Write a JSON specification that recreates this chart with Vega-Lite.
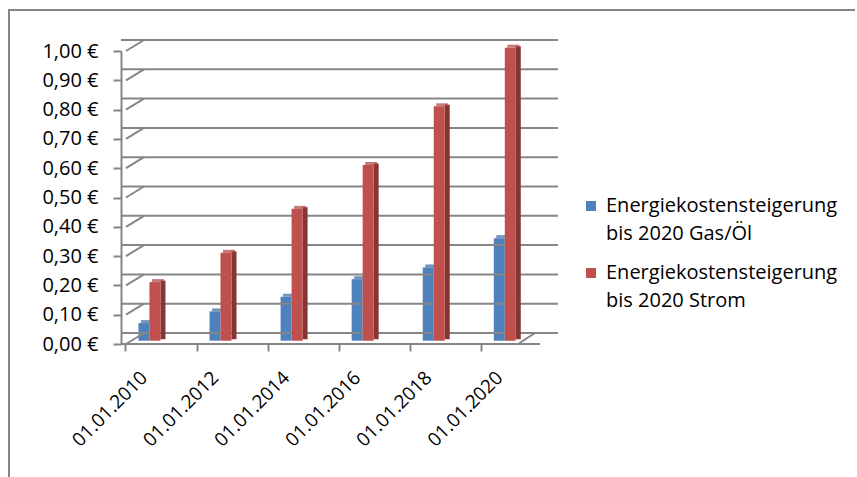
{
  "$schema": "https://vega.github.io/schema/vega-lite/v6.json",
  "width": 419,
  "height": 293,
  "autosize": {"type": "none"},
  "padding": {"left": 121, "top": 51, "right": 317, "bottom": 133},
  "background": "white",
  "config": {
    "view": {"stroke": null},
    "font": "Open Sans",
    "axis": {"labelOverlap": false},
    "style": {"guide-label": {"lineHeight": 28}}
  },
  "datasets": {
    "werte": [
      {"jahr": 2010, "reihe": "Energiekostensteigerung bis 2020 Gas/Öl", "wert": 0.06},
      {"jahr": 2012, "reihe": "Energiekostensteigerung bis 2020 Gas/Öl", "wert": 0.10},
      {"jahr": 2014, "reihe": "Energiekostensteigerung bis 2020 Gas/Öl", "wert": 0.15},
      {"jahr": 2016, "reihe": "Energiekostensteigerung bis 2020 Gas/Öl", "wert": 0.21},
      {"jahr": 2018, "reihe": "Energiekostensteigerung bis 2020 Gas/Öl", "wert": 0.25},
      {"jahr": 2020, "reihe": "Energiekostensteigerung bis 2020 Gas/Öl", "wert": 0.35},
      {"jahr": 2010, "reihe": "Energiekostensteigerung bis 2020 Strom", "wert": 0.20},
      {"jahr": 2012, "reihe": "Energiekostensteigerung bis 2020 Strom", "wert": 0.30},
      {"jahr": 2014, "reihe": "Energiekostensteigerung bis 2020 Strom", "wert": 0.45},
      {"jahr": 2016, "reihe": "Energiekostensteigerung bis 2020 Strom", "wert": 0.60},
      {"jahr": 2018, "reihe": "Energiekostensteigerung bis 2020 Strom", "wert": 0.80},
      {"jahr": 2020, "reihe": "Energiekostensteigerung bis 2020 Strom", "wert": 1.00}
    ],
    "raster": [
      {"v": 0}, {"v": 0.1}, {"v": 0.2}, {"v": 0.3}, {"v": 0.4}, {"v": 0.5},
      {"v": 0.6}, {"v": 0.7}, {"v": 0.8}, {"v": 0.9}, {"v": 1.0}
    ],
    "eins": [{"v": 0}]
  },
  "layer": [
    {
      "data": {"name": "werte"},
      "transform": [{"filter": "datum.reihe == 'Energiekostensteigerung bis 2020 Gas/Öl'"}],
      "mark": {"type": "bar", "width": 11, "xOffset": -5.5, "yOffset": -3.3, "y2Offset": -3.3},
      "encoding": {
        "x": {
          "field": "jahr", "type": "quantitative",
          "scale": {"domain": [2009.34, 2020.85], "nice": false, "zero": false},
          "axis": {
            "title": null, "values": [2010, 2012, 2014, 2016, 2018, 2020],
            "tickOffset": -24, "labelOffset": 12,
            "labelExpr": "'01.01.' + datum.value",
            "labelAngle": -45, "labelOverlap": false, "labelBound": false, "labelLineHeight": 20,
            "domain": false, "grid": false,
            "tickSize": 7, "tickColor": "#868686", "tickWidth": 2,
            "labelFont": "Open Sans", "labelFontSize": 19, "labelColor": "#000000", "labelPadding": 17
          }
        },
        "y": {
          "field": "wert", "type": "quantitative",
          "scale": {"domain": [0, 1], "nice": false},
          "axis": {
            "title": null, "values": [0, 0.1, 0.2, 0.3, 0.4, 0.5, 0.6, 0.7, 0.8, 0.9, 1.0], "tickCount": 11,
            "labelExpr": "replace(format(datum.value, '.2f'), '.', ',') + ' €'",
            "labelOverlap": false, "labelBound": false, "labelLineHeight": 20,
            "grid": false, "domainColor": "#868686", "domainWidth": 2,
            "tickColor": "#868686", "tickWidth": 2, "tickSize": 8, "labelPadding": 15,
            "labelFont": "Open Sans", "labelFontSize": 20, "labelColor": "#000000"
          }
        },
        "color": {
          "field": "reihe", "type": "nominal",
          "scale": {"domain": ["Energiekostensteigerung bis 2020 Gas/Öl", "Energiekostensteigerung bis 2020 Strom"], "range": ["#4F81BD", "#C0504D"]},
          "legend": {
            "orient": "none", "legendX": 460, "legendY": 145, "title": null,
            "symbolType": "square", "symbolSize": 100, "symbolStrokeWidth": 0,
            "labelFont": "Open Sans", "labelFontSize": 20, "labelColor": "#000000", "labelLimit": 0,
            "labelExpr": "['Energiekostensteigerung', slice(datum.label, 24)]",
            "rowPadding": 19, "labelOffset": 5
          }
        }
      }
    },
    {
      "data": {"name": "raster"},
      "mark": {"type": "rule", "color": "#868686", "strokeWidth": 2, "xOffset": 18, "yOffset": -11, "y2Offset": -11},
      "encoding": {
        "y": {
          "field": "v", "type": "quantitative",
          "axis": {
            "title": null, "values": [0, 0.1, 0.2, 0.3, 0.4, 0.5, 0.6, 0.7, 0.8, 0.9, 1.0], "tickCount": 11,
            "labelExpr": "replace(format(datum.value, '.2f'), '.', ',') + ' €'",
            "labelOverlap": false, "labelBound": false, "labelLineHeight": 20,
            "grid": false, "domainColor": "#868686", "domainWidth": 2,
            "tickColor": "#868686", "tickWidth": 2, "tickSize": 8, "labelPadding": 15,
            "labelFont": "Open Sans", "labelFontSize": 20, "labelColor": "#000000"
          }
        }
      }
    },
    {
      "data": {"name": "raster"},
      "mark": {"type": "rule", "color": "#868686", "strokeWidth": 2, "x2Offset": 18, "y2Offset": -11},
      "encoding": {
        "x": {"datum": 2009.34, "type": "quantitative", "title": null},
        "x2": {"datum": 2009.34},
        "y": {"field": "v", "type": "quantitative", "title": null},
        "y2": {"field": "v"}
      }
    },
    {
      "data": {"name": "eins"},
      "mark": {"type": "rule", "color": "#868686", "strokeWidth": 2, "x2Offset": -17},
      "encoding": {
        "y": {"field": "v", "type": "quantitative", "title": null}
      }
    },
    {
      "data": {"name": "eins"},
      "mark": {"type": "rule", "color": "#868686", "strokeWidth": 2, "xOffset": -17, "y2Offset": -11},
      "encoding": {
        "x": {"datum": 2020.85, "type": "quantitative", "title": null},
        "x2": {"datum": 2020.85},
        "y": {"field": "v", "type": "quantitative", "title": null},
        "y2": {"field": "v"}
      }
    },
    {
      "data": {"name": "eins"},
      "mark": {"type": "rule", "color": "#868686", "strokeWidth": 2, "xOffset": -117, "x2Offset": 320, "yOffset": -41},
      "encoding": {
        "x": {"datum": 2009.34, "type": "quantitative", "title": null},
        "x2": {"datum": 2020.85},
        "y": {"datum": 1, "type": "quantitative", "title": null}
      }
    },
    {
      "data": {"name": "eins"},
      "mark": {"type": "rule", "color": "#868686", "strokeWidth": 2, "xOffset": -117, "yOffset": -42, "y2Offset": 140},
      "encoding": {
        "x": {"datum": 2009.34, "type": "quantitative", "title": null},
        "y": {"datum": 1, "type": "quantitative", "title": null},
        "y2": {"datum": 0}
      }
    },
    {
      "data": {"name": "werte"},
      "transform": [{"filter": "datum.reihe == 'Energiekostensteigerung bis 2020 Gas/Öl'"}],
      "mark": {"type": "tick", "orient": "horizontal", "size": 11, "thickness": 3, "xOffset": -3, "yOffset": -4.8, "color": "#3B6699"},
      "encoding": {
        "x": {"field": "jahr", "type": "quantitative", "title": null},
        "y": {"field": "wert", "type": "quantitative", "title": null}
      }
    },
    {
      "data": {"name": "werte"},
      "transform": [{"filter": "datum.reihe == 'Energiekostensteigerung bis 2020 Strom'"}],
      "mark": {"type": "bar", "width": 5, "xOffset": 13.5, "yOffset": -4.8, "y2Offset": -4.8, "color": "#853533"},
      "encoding": {
        "x": {"field": "jahr", "type": "quantitative", "title": null},
        "y": {"field": "wert", "type": "quantitative", "title": null}
      }
    },
    {
      "data": {"name": "werte"},
      "transform": [{"filter": "datum.reihe == 'Energiekostensteigerung bis 2020 Strom'"}],
      "mark": {"type": "tick", "orient": "horizontal", "size": 12, "thickness": 3, "xOffset": 8.5, "yOffset": -4.8, "color": "#A9413E"},
      "encoding": {
        "x": {"field": "jahr", "type": "quantitative", "title": null},
        "y": {"field": "wert", "type": "quantitative", "title": null}
      }
    },
    {
      "data": {"name": "werte"},
      "transform": [{"filter": "datum.reihe == 'Energiekostensteigerung bis 2020 Strom'"}],
      "mark": {"type": "bar", "width": 11, "xOffset": 5.5, "yOffset": -3.3, "y2Offset": -3.3},
      "encoding": {
        "x": {"field": "jahr", "type": "quantitative", "title": null},
        "y": {"field": "wert", "type": "quantitative", "title": null},
        "color": {"field": "reihe", "type": "nominal"}
      }
    }
  ]
}
